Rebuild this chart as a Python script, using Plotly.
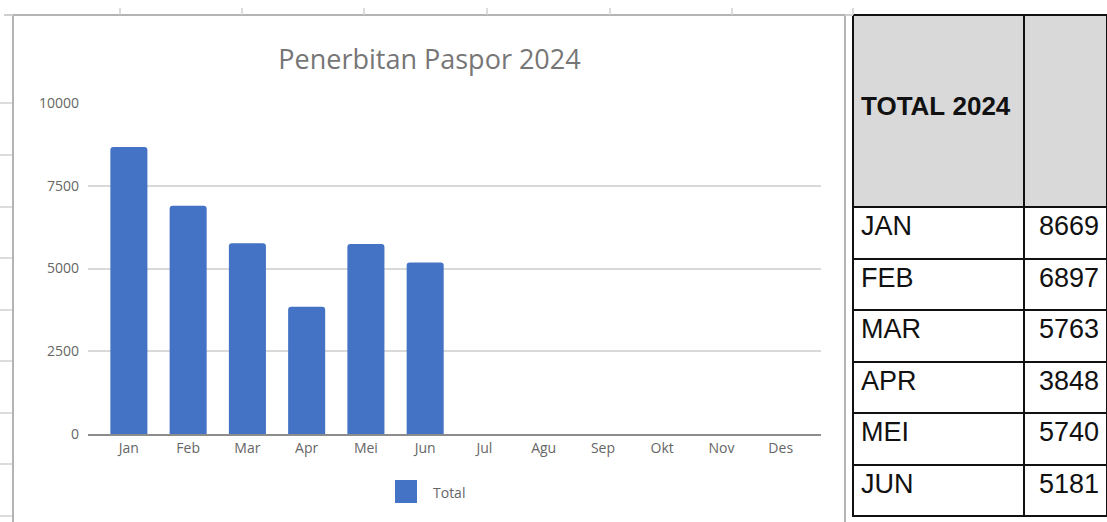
import plotly.graph_objects as go

# ---- data ----
months = ["Jan", "Feb", "Mar", "Apr", "Mei", "Jun", "Jul", "Agu", "Sep", "Okt", "Nov", "Des"]
totals_2024 = [8669, 6897, 5763, 3848, 5740, 5181]
table_months = ["JAN", "FEB", "MAR", "APR", "MEI", "JUN"]
table_header = ["TOTAL 2024", ""]
y_ticks = [0, 2500, 5000, 7500, 10000]
chart_title = "Penerbitan Paspor 2024"
series_name = "Total"

W, H = 1107, 522


def px(x):
    return x / W


def py(y):
    return 1 - y / H


bar_values = totals_2024 + [None] * (len(months) - len(totals_2024))

fig = go.Figure()
fig.add_trace(go.Bar(
    x=months, y=bar_values, name=series_name,
    marker=dict(color="#4472c4", cornerradius=3, line=dict(width=0)),
    width=0.625, showlegend=False,
))

NB = "\u00a0"
fig.add_trace(go.Table(
    domain=dict(x=[px(853), 1], y=[0, py(15)]),
    columnwidth=[171, 83],
    header=dict(
        values=[NB + "<br>" + NB + "<br><b>" + table_header[0].replace(" ", NB) + "</b>", table_header[1]],
        fill_color="#d9d9d9",
        line=dict(color="#111111", width=2),
        height=192,
        align=["left", "right"],
        font=dict(family="Liberation Sans, Arial, sans-serif", size=26, color="#111111"),
    ),
    cells=dict(
        values=[table_months, totals_2024],
        fill_color="white",
        line=dict(color="#111111", width=2),
        height=51.5,
        align=["left", "right"],
        font=dict(family="Liberation Sans, Arial, sans-serif", size=27, color="#111111"),
    ),
))

tick_font = dict(family="Open Sans, sans-serif", size=14, color="#666666")

fig.update_layout(
    width=W, height=H,
    margin=dict(l=0, r=0, t=0, b=0, pad=0, autoexpand=False),
    paper_bgcolor="white", plot_bgcolor="white",
    bargap=0.375,
    title=dict(text=chart_title, x=px(429.5), y=py(60), xanchor="center", yanchor="middle",
               xref="paper", yref="paper", automargin=False,
               font=dict(family="Open Sans, sans-serif", size=27, color="#767676")),
    xaxis=dict(
        type="category", categoryorder="array", categoryarray=months,
        range=[-0.69, 11.68], domain=[px(88), px(821)], automargin=False,
        showline=True, linecolor="#8c8c8c", linewidth=2,
        showgrid=False, ticks="", tickfont=tick_font, fixedrange=True,
    ),
    yaxis=dict(
        range=[0, 10000], domain=[py(434), py(103)], automargin=False,
        tickvals=y_ticks, ticktext=[str(v) for v in y_ticks],
        showgrid=True, gridcolor="#d9d9d9", gridwidth=1.5,
        zeroline=False, showline=False, ticks="", ticklabelstandoff=8,
        tickfont=tick_font, fixedrange=True,
    ),
    showlegend=False,
)

shapes = []
# chart frame
shapes.append(dict(type="rect", xref="paper", yref="paper",
                   x0=px(13), x1=px(845), y0=py(540), y1=py(15),
                   line=dict(color="#b4b4b4", width=2), fillcolor="rgba(0,0,0,0)", layer="below"))
shapes.append(dict(type="line", xref="paper", yref="paper",
                   x0=px(4), x1=px(13), y0=py(15), y1=py(15),
                   line=dict(color="#cfcfcf", width=2)))
shapes.append(dict(type="line", xref="paper", yref="paper",
                   x0=px(845), x1=px(853), y0=py(15), y1=py(15),
                   line=dict(color="#cfcfcf", width=2)))
# spreadsheet gridline stubs
for cx in [120, 242, 364, 487, 610, 732, 853]:
    shapes.append(dict(type="line", xref="paper", yref="paper",
                       x0=px(cx), x1=px(cx), y0=py(8), y1=py(15),
                       line=dict(color="#d0d0d0", width=1.5)))
for ry in [103, 155, 207, 258, 310, 361, 413, 464, 516]:
    shapes.append(dict(type="line", xref="paper", yref="paper",
                       x0=px(0), x1=px(12), y0=py(ry), y1=py(ry),
                       line=dict(color="#d0d0d0", width=1.5)))
# legend swatch
shapes.append(dict(type="rect", xref="paper", yref="paper",
                   x0=px(395), x1=px(417), y0=py(503), y1=py(480),
                   line=dict(width=0), fillcolor="#4472c4"))
fig.update_layout(shapes=shapes)

fig.add_annotation(text=series_name, xref="paper", yref="paper",
                   x=px(431), y=py(492), xanchor="left", yanchor="middle",
                   showarrow=False, font=dict(family="Open Sans, sans-serif", size=14, color="#666666"))

# remove the browser's default 8px page margin so the figure sits at (0, 0)
post_script = """
document.body.style.margin = '0';
document.body.style.overflow = 'hidden';
document.documentElement.style.overflow = 'hidden';
"""

fig.write_html("out.html", post_script=post_script, config={"displayModeBar": False})
